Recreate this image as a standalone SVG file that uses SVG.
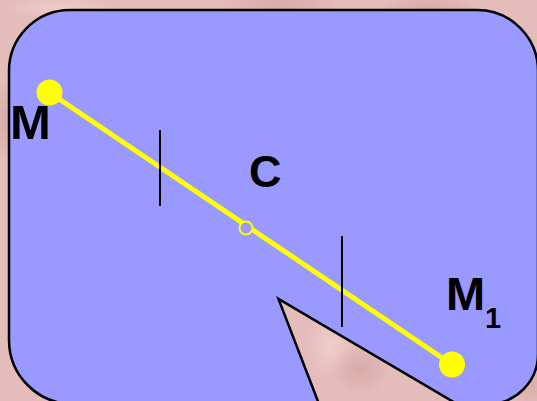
<svg xmlns="http://www.w3.org/2000/svg" width="537" height="401" viewBox="0 0 537 401">
  <defs>
    <radialGradient id="blot" cx="0.5" cy="0.5" r="0.5">
      <stop offset="0" stop-color="#d6a9a6" stop-opacity="0.9"/>
      <stop offset="1" stop-color="#d6a9a6" stop-opacity="0"/>
    </radialGradient>
    <radialGradient id="lite" cx="0.5" cy="0.5" r="0.5">
      <stop offset="0" stop-color="#f0cfcc" stop-opacity="0.9"/>
      <stop offset="1" stop-color="#f0cfcc" stop-opacity="0"/>
    </radialGradient>
  </defs>
  <style>
    .lbl { font-family: "Liberation Sans", Arial, sans-serif; font-weight: bold; fill: #000; }
    .tick { stroke: #000; stroke-width: 2; }
    .pt { fill: #ffff00; }
  </style>
  <g id="background">
    <rect x="0" y="0" width="537" height="401" fill="#e4bcba"/>
    <ellipse cx="280" cy="5" rx="60" ry="20" fill="url(#blot)"/>
    <ellipse cx="430" cy="8" rx="50" ry="15" fill="url(#blot)"/>
    <ellipse cx="4" cy="120" rx="12" ry="40" fill="url(#blot)"/>
    <ellipse cx="330" cy="345" rx="25" ry="35" fill="url(#lite)"/>
    <ellipse cx="360" cy="370" rx="30" ry="25" fill="url(#blot)"/>
    <ellipse cx="60" cy="8" rx="60" ry="12" fill="url(#lite)"/>
    <ellipse cx="530" cy="380" rx="20" ry="30" fill="url(#blot)"/>
  </g>
  <g id="callout">
    <path d="M 70,10 H 477 A 61 61 0 0 1 538,71 V 354 A 50 50 0 0 1 488,404 H 457 L 278.5,299 L 319,404 H 73 A 64 64 0 0 1 9,340 V 71 A 61 61 0 0 1 70,10 Z" fill="#9999ff" stroke="#000" stroke-width="2.5" stroke-linejoin="miter"/>
  </g>
  <g id="connectors">
    <line id="segment" x1="49.5" y1="92.5" x2="452" y2="364.5" stroke="#ffff00" stroke-width="5"/>
    <line id="tick1" class="tick" x1="160" y1="130" x2="160" y2="206"/>
    <line id="tick2" class="tick" x1="342" y1="236" x2="342" y2="327"/>
  </g>
  <g id="node-M">
    <circle class="pt" cx="49.5" cy="92.5" r="13"/>
    <text class="lbl" x="10" y="139" font-size="49">M</text>
  </g>
  <g id="node-C">
    <circle cx="246" cy="228" r="6.5" fill="#9999ff" stroke="#ffff00" stroke-width="2"/>
    <text class="lbl" x="249" y="187" font-size="45">C</text>
  </g>
  <g id="node-M1">
    <circle class="pt" cx="452" cy="364.5" r="13"/>
    <text class="lbl" x="446" y="310" font-size="47">M</text>
    <text class="lbl" x="485" y="328" font-size="29">1</text>
  </g>
</svg>
